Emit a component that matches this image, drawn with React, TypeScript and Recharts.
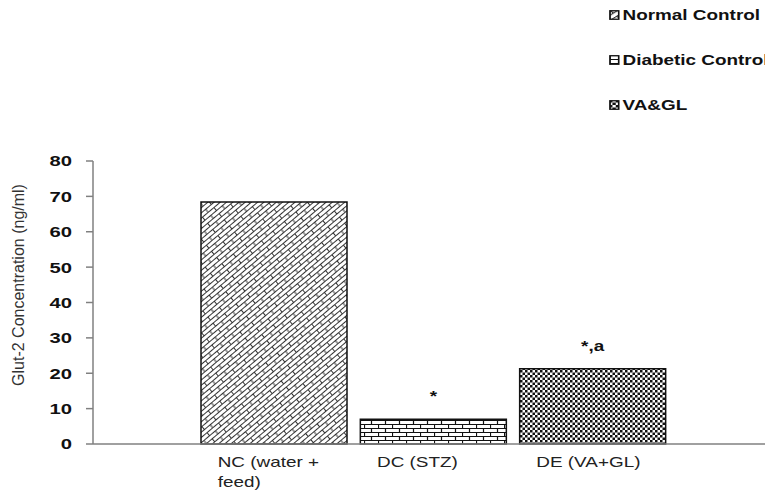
import { BarChart, Bar, XAxis, YAxis, Cell, LabelList } from 'recharts';

const categories = ['NC (water + feed)', 'DC (STZ)', 'DE (VA+GL)'];
const tickLines = [['NC (water +', 'feed)'], ['DC (STZ)'], ['DE (VA+GL)']];
const values = [68.4, 7.0, 21.3];
const marks = ['', '*', '*,a'];
const legendNames = ['Normal Control', 'Diabetic Control', 'VA&GL'];
const yTicks = [0, 10, 20, 30, 40, 50, 60, 70, 80];
const fills = ['url(#ncFill)', 'url(#dcFill)', 'url(#deFill)'];

const data = categories.map((name, i) => ({ name, value: values[i], mark: marks[i] }));

const FONT = 'Arial, "Liberation Sans", sans-serif';
// the source picture is stretched sideways, text included
const SX = 1.35;

function Patterns() {
  return (
    <svg width={0} height={0} style={{ position: 'absolute' }}>
      <defs>
        <pattern id="ncFill" width={15} height={8} patternUnits="userSpaceOnUse" patternTransform="rotate(-40)">
          <rect width={15} height={8} fill="#fff" />
          <path d="M0,0.5 H15 M0,4.5 H15 M0.5,0.5 V4.5 M8,4.5 V8.5" stroke="#333" strokeWidth={1} fill="none" />
        </pattern>
        <pattern id="dcFill" width={14} height={8} patternUnits="userSpaceOnUse">
          <rect width={14} height={8} fill="#fff" />
          <path d="M0,0.5 H14 M0,4.5 H14 M0.5,0.5 V4.5 M7.5,4.5 V8.5" stroke="#111" strokeWidth={1.2} fill="none" />
        </pattern>
        <pattern id="deFill" width={5} height={5} patternUnits="userSpaceOnUse">
          <rect width={5} height={5} fill="#fff" />
          <rect x={0} y={0} width={2.5} height={2.5} fill="#111" />
          <rect x={2.5} y={2.5} width={2.5} height={2.5} fill="#111" />
        </pattern>
      </defs>
    </svg>
  );
}

function XTick({ x, y, index }: any) {
  const lines = tickLines[index] || [];
  return (
    <g transform={`translate(${x - 56},${y}) scale(${SX},1)`}>
      <text x={0} y={0} fontFamily={FONT} fontSize={14} fill="#222" textAnchor="start">
        {lines.map((l, i) => (
          <tspan key={i} x={0} dy={i === 0 ? 15 : 20}>{l}</tspan>
        ))}
      </text>
    </g>
  );
}

function YTick({ x, y, payload }: any) {
  return (
    <text
      transform={`translate(${x},${y}) scale(${SX},1)`}
      textAnchor="end"
      dy="0.36em"
      fontFamily={FONT}
      fontWeight="bold"
      fontSize={15}
      fill="#111"
    >
      {payload.value}
    </text>
  );
}

function MarkLabel({ x, y, width, value }: any) {
  if (!value) return null;
  return (
    <text
      transform={`translate(${x + width / 2},${y - 18}) scale(${SX},1)`}
      textAnchor="middle"
      fontFamily={FONT}
      fontWeight="bold"
      fontSize={14}
      fill="#111"
    >
      {value}
    </text>
  );
}

function LegendBox() {
  return (
    <div
      style={{
        position: 'absolute',
        top: -8,
        left: 609,
        fontFamily: FONT,
        fontWeight: 'bold',
        fontSize: 14,
        color: '#111',
        whiteSpace: 'nowrap',
        transform: `scaleX(${SX})`,
        transformOrigin: 'left top',
      }}
    >
      {legendNames.map((n, i) => (
        <div key={n} style={{ height: 45, display: 'flex', alignItems: 'center' }}>
          <svg width={8} height={10} style={{ marginRight: 2 }}>
            <rect x={0.75} y={0.75} width={6.5} height={8.5} fill={fills[i]} stroke="#111" strokeWidth={1.3} />
          </svg>
          <span>{n}</span>
        </div>
      ))}
    </div>
  );
}

export default function App() {
  return (
    <div style={{ width: 765, height: 502, overflow: 'hidden', position: 'relative', background: '#fff' }}>
      <style>{'body{margin:0}'}</style>
      <Patterns />
      <LegendBox />
      <BarChart width={765} height={502} data={data} margin={{ top: 161, right: 0, bottom: 0, left: 0 }}>
        <YAxis
          domain={[0, 80]}
          ticks={yTicks}
          interval={0}
          width={93}
          tickSize={7}
          tickMargin={14}
          axisLine={{ stroke: '#808080', strokeWidth: 1.5 }}
          tickLine={{ stroke: '#808080', strokeWidth: 1.5 }}
          tick={<YTick />}
          label={{
            content: () => (
              <text transform="translate(24,285) rotate(-90)" textAnchor="middle" fontFamily={FONT} fontSize={16} fill="#333">
                Glut-2 Concentration (ng/ml)
              </text>
            ),
          }}
        />
        <XAxis
          dataKey="name"
          height={58}
          padding={{ left: 101, right: 93 }}
          tickLine={false}
          axisLine={{ stroke: '#808080', strokeWidth: 1.5 }}
          tick={<XTick />}
          interval={0}
        />
        <Bar dataKey="value" barSize={146} stroke="#111" strokeWidth={1.5} isAnimationActive={false}>
          {data.map((d, i) => (
            <Cell key={d.name} fill={fills[i]} />
          ))}
          <LabelList dataKey="mark" content={<MarkLabel />} />
        </Bar>
      </BarChart>
    </div>
  );
}
